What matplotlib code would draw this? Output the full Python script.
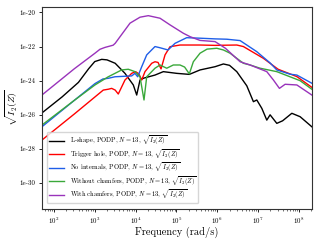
import numpy as np
import matplotlib
matplotlib.use("Agg")
import matplotlib.pyplot as plt
from matplotlib.ticker import FixedLocator, NullLocator, LogLocator, LogFormatterMathtext

plt.rcParams['font.family'] = 'serif'
plt.rcParams['font.serif'] = ['cmr10', 'DejaVu Serif']
plt.rcParams['mathtext.fontset'] = 'cm'
plt.rcParams['axes.unicode_minus'] = False
plt.rcParams['axes.formatter.use_mathtext'] = True

# log10(frequency), log10(sqrt(I2))
black_lf = [1.706, 2.2, 2.6, 2.85, 3.0, 3.17, 3.3, 3.5, 3.74, 3.944, 4.027, 4.108, 4.2, 4.475, 4.679, 5.007, 5.316, 5.578, 5.946, 6.15, 6.3, 6.478, 6.723, 6.885, 6.968, 7.091, 7.213, 7.294, 7.458, 7.6, 7.826, 8.029, 8.316]
black_ly = [-25.89, -24.95, -24.1, -23.3, -22.88, -22.75, -22.78, -22.98, -23.57, -24.25, -24.84, -23.96, -23.85, -23.67, -23.47, -23.57, -23.63, -23.37, -23.18, -23.02, -23.1, -23.47, -24.3, -25.23, -25.13, -25.62, -26.31, -26.0, -26.5, -26.35, -25.91, -26.11, -26.7]

red_lf = [1.706, 2.5, 3.208, 3.331, 3.414, 3.5, 3.576, 3.74, 3.904, 4.0, 4.08, 4.15, 4.23, 4.395, 4.475, 4.55, 4.623, 4.721, 4.843, 5.088, 5.578, 5.946, 6.478, 6.64, 7.13, 7.49, 7.949, 8.316]
red_ly = [-27.48, -25.95, -24.55, -24.5, -24.45, -24.55, -24.78, -23.96, -23.57, -23.47, -23.6, -23.96, -23.47, -22.98, -22.89, -22.93, -23.31, -22.49, -22.01, -21.91, -21.91, -21.93, -21.91, -22.0, -22.69, -23.33, -23.76, -24.39]

blue_lf = [1.706, 2.5, 3.005, 3.2, 3.331, 3.495, 3.904, 3.985, 4.051, 4.15, 4.272, 4.475, 4.598, 4.794, 4.966, 5.252, 5.578, 5.946, 6.233, 6.559, 6.723, 6.968, 7.294, 7.458, 7.784, 7.949, 8.316]
blue_ly = [-26.7, -25.15, -24.17, -23.9, -23.86, -23.77, -23.72, -23.57, -23.77, -23.18, -22.49, -22.0, -22.07, -22.2, -21.81, -21.48, -21.51, -21.55, -21.57, -21.65, -21.91, -22.3, -22.96, -23.37, -23.62, -23.67, -24.15]

green_lf = [1.706, 2.5, 3.005, 3.331, 3.659, 3.821, 3.985, 4.108, 4.206, 4.272, 4.475, 4.598, 4.762, 4.924, 5.088, 5.2, 5.316, 5.414, 5.578, 5.75, 5.988, 6.15, 6.314, 6.478, 6.64, 6.804, 7.049, 7.458, 8.029, 8.316]
green_ly = [-26.6, -25.15, -24.25, -23.77, -23.37, -23.33, -23.47, -23.77, -25.13, -23.77, -23.27, -23.08, -23.27, -23.08, -23.08, -23.2, -23.6, -22.89, -22.39, -22.15, -22.1, -22.2, -22.39, -22.69, -22.98, -23.08, -23.27, -23.47, -24.0, -24.5]

purple_lf = [1.706, 2.5, 3.005, 3.127, 3.25, 3.373, 3.45, 3.5, 3.74, 3.863, 4.108, 4.311, 4.598, 4.843, 5.169, 5.333, 5.578, 5.946, 6.2, 6.559, 6.804, 7.213, 7.375, 7.522, 7.662, 7.949, 8.316]
purple_ly = [-24.84, -23.3, -22.39, -22.16, -22.05, -21.97, -21.92, -21.81, -21.03, -20.63, -20.28, -20.19, -20.34, -20.73, -21.22, -21.42, -21.64, -21.71, -22.1, -22.89, -23.08, -23.47, -23.96, -24.45, -24.21, -24.25, -24.84]

labels = [
    r"L-shape, PODP, $N=13$, $\sqrt{I_2(Z)}$",
    r"Trigger hole, PODP, $N=13$, $\sqrt{I_2(Z)}$",
    r"No internals, PODP, $N=13$, $\sqrt{I_2(Z)}$",
    r"Without chamfers, PODP, $N=13$, $\sqrt{I_2(Z)}$",
    r"With chamfers, PODP, $N=13$, $\sqrt{I_2(Z)}$",
]
colors = ['black', 'red', '#1f5ee8', '#3aa83a', '#9933bb']

series = [(black_lf, black_ly), (red_lf, red_ly), (blue_lf, blue_ly),
          (green_lf, green_ly), (purple_lf, purple_ly)]

xtick_exps = [2, 3, 4, 5, 6, 7, 8]
ytick_exps = [-20, -22, -24, -26, -28, -30]
ytick_labels = ["1e-20", "1e-22", "1e-24", "1e-26", "1e-28", "1e-30"]

fig = plt.figure(figsize=(3.2, 2.4), dpi=100)
ax = fig.add_axes([0.131, 0.129, 0.844, 0.842])

for (lf, ly), c, lab in zip(series, colors, labels):
    ax.plot(10 ** np.array(lf), 10 ** np.array(ly), color=c, lw=1.0, label=lab)

ax.set_xscale('log')
ax.set_yscale('log')
ax.set_xlim(10 ** 1.706, 10 ** 8.32)
ax.set_ylim(10 ** -31.52, 10 ** -19.68)

ax.xaxis.set_major_locator(FixedLocator([10.0 ** e for e in xtick_exps]))
ax.xaxis.set_major_formatter(LogFormatterMathtext())
ax.xaxis.set_minor_locator(LogLocator(base=10, subs=np.arange(2, 10), numticks=100))

ax.yaxis.set_major_locator(FixedLocator([10.0 ** e for e in ytick_exps]))
ax.set_yticklabels(ytick_labels)
ax.yaxis.set_minor_locator(NullLocator())

ax.tick_params(axis='both', which='major', labelsize=5, length=2.5, width=0.6, pad=2)
ax.tick_params(axis='both', which='minor', length=1.3, width=0.4)
for s in ax.spines.values():
    s.set_linewidth(0.8)
    s.set_color('#333333')

ax.set_xlabel("Frequency (rad/s)", fontsize=7.5, labelpad=1)
ax.set_ylabel(r"$\sqrt{I_2(Z)}$", fontsize=7)
ax.yaxis.set_label_coords(-0.08, 0.5)

ax.legend(loc='lower left', fontsize=4.7, frameon=True, handlelength=2.3,
          borderpad=0.35, labelspacing=0.0, handletextpad=0.9,
          bbox_to_anchor=(0.005, 0.012), framealpha=0.8, edgecolor='#cccccc')

fig.savefig("out.png", dpi=100)
